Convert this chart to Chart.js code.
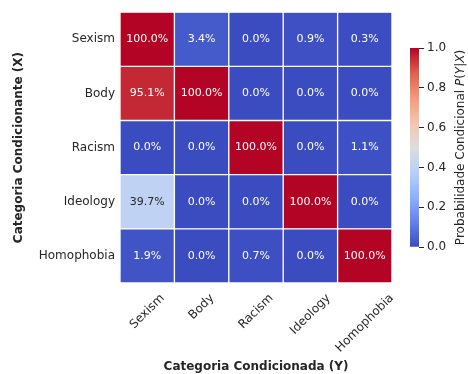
<!DOCTYPE html>
<html>
<head>
<meta charset="utf-8">
<script src="https://cdn.jsdelivr.net/npm/chart.js@4.4.1/dist/chart.umd.min.js"></script>
<style>
  body { margin: 0; background: #fff; }
  #wrap { position: relative; width: 468px; height: 374px; }
  #heat, #cbar { position: absolute; top: 0; }
  #heat { left: 0; }
  #cbar { left: 400px; }
</style>
</head>
<body>
<div id="wrap">
  <canvas id="heat" width="468" height="374"></canvas>
  <canvas id="cbar" width="68" height="374"></canvas>
</div>
<script>
// categories (same list for X rows and Y columns)
const categories = ['Sexism', 'Body', 'Racism', 'Ideology', 'Homophobia'];

// P(Y|X) in %, one row per conditioning category X
const sexismRow     = [100.0, 3.4, 0.0, 0.9, 0.3];
const bodyRow       = [95.1, 100.0, 0.0, 0.0, 0.0];
const racismRow     = [0.0, 0.0, 100.0, 0.0, 1.1];
const ideologyRow   = [39.7, 0.0, 0.0, 100.0, 0.0];
const homophobiaRow = [1.9, 0.0, 0.7, 0.0, 100.0];
const rows = [sexismRow, bodyRow, racismRow, ideologyRow, homophobiaRow];

const colorbarTicks = [0.0, 0.2, 0.4, 0.6, 0.8, 1.0];

const FONT = 'DejaVu Sans';
const INK = '#262626';

// matplotlib "coolwarm" control points
const coolwarmStops = [
    [0.0, 59, 76, 192], [0.125, 98, 130, 234], [0.25, 141, 176, 254],
    [0.375, 184, 208, 249], [0.5, 221, 221, 221], [0.625, 245, 196, 173],
    [0.75, 244, 154, 123], [0.875, 222, 96, 77], [1.0, 180, 4, 38]
];

function coolwarmRGB(t) {
    t = Math.max(0, Math.min(1, t));
    for (let i = 1; i < coolwarmStops.length; i++) {
        const a = coolwarmStops[i - 1], b = coolwarmStops[i];
        if (t <= b[0]) {
            const f = (t - a[0]) / (b[0] - a[0]);
            return [1, 2, 3].map(k => Math.round(a[k] + (b[k] - a[k]) * f));
        }
    }
    return coolwarmStops[coolwarmStops.length - 1].slice(1);
}
const coolwarm = t => 'rgb(' + coolwarmRGB(t).join(',') + ')';

function luminance(rgb) {
    const c = rgb.map(v => {
        v /= 255;
        return v <= 0.03928 ? v / 12.92 : Math.pow((v + 0.055) / 1.055, 2.4);
    });
    return 0.2126 * c[0] + 0.7152 * c[1] + 0.0722 * c[2];
}

// stacked bars, bottom dataset = last row
const datasets = [];
for (let i = rows.length - 1; i >= 0; i--) {
    datasets.push({
        label: categories[i],
        data: categories.map(() => 1),
        values: rows[i],
        backgroundColor: rows[i].map(v => coolwarm(v / 100))
    });
}

const cellLabels = {
    id: 'cellLabels',
    afterDatasetsDraw(chart) {
        const ctx = chart.ctx;
        ctx.save();
        ctx.font = '11px "' + FONT + '"';
        ctx.textAlign = 'center';
        ctx.textBaseline = 'middle';
        chart.data.datasets.forEach((ds, di) => {
            chart.getDatasetMeta(di).data.forEach((bar, j) => {
                const v = ds.values[j];
                const p = bar.getCenterPoint();
                ctx.fillStyle = luminance(coolwarmRGB(v / 100)) > 0.408 ? INK : '#fff';
                ctx.fillText(v.toFixed(1) + '%', p.x, p.y);
            });
        });
        ctx.restore();
    }
};

// x tick labels rotated 45deg, bounding box centred on the tick (matplotlib style)
const rotatedXLabels = {
    id: 'rotatedXLabels',
    afterDraw(chart) {
        const ctx = chart.ctx;
        const sx = chart.scales.x;
        const c = Math.SQRT1_2;
        ctx.save();
        ctx.font = '12px "' + FONT + '"';
        ctx.fillStyle = INK;
        ctx.textAlign = 'center';
        ctx.textBaseline = 'middle';
        categories.forEach((lab, i) => {
            const w = ctx.measureText(lab).width;
            const h = 12;
            const boxH = (w + h) * c;
            const x = sx.getPixelForValue(i);
            const y = sx.top + 9 + boxH / 2;
            ctx.save();
            ctx.translate(x, y);
            ctx.rotate(-Math.PI / 4);
            ctx.fillText(lab, 0, 0);
            ctx.restore();
        });
        ctx.restore();
    }
};

new Chart(document.getElementById('heat'), {
    type: 'bar',
    data: { labels: categories, datasets: datasets },
    options: {
        responsive: false,
        animation: false,
        layout: { padding: { top: 11, right: 76, left: 0, bottom: 0 } },
        plugins: { legend: { display: false }, tooltip: { enabled: false } },
        datasets: {
            bar: {
                barPercentage: 1, categoryPercentage: 1,
                borderWidth: 1, borderColor: '#fff', borderSkipped: false
            }
        },
        scales: {
            x: {
                stacked: true,
                grid: { display: false, drawTicks: false },
                border: { display: false },
                ticks: { display: false },
                title: {
                    display: true, text: 'Categoria Condicionada (Y)', color: INK,
                    font: { family: FONT, size: 12, weight: 'bold' },
                    padding: { top: 4, bottom: 0 }
                },
                afterFit(s) { s.height = 91; }
            },
            y: {
                stacked: true, min: 0, max: 5,
                grid: { display: false, drawTicks: false, tickLength: 0 },
                border: { display: false },
                afterBuildTicks(s) {
                    s.ticks = categories.map((_, i) => ({ value: i + 0.5 }));
                },
                ticks: {
                    callback: (v, i) => categories[categories.length - 1 - i],
                    padding: 5, color: INK, font: { family: FONT, size: 12 }
                },
                title: {
                    display: true, text: 'Categoria Condicionante (X)', color: INK,
                    font: { family: FONT, size: 12, weight: 'bold' },
                    padding: { top: 12, bottom: 0 }
                },
                afterFit(s) { s.width = 120; }
            }
        }
    },
    plugins: [cellLabels, rotatedXLabels]
});

// colorbar label with italic math parts
const cbarTitle = {
    id: 'cbarTitle',
    afterDraw(chart) {
        const ctx = chart.ctx;
        const a = chart.chartArea;
        const parts = [
            ['Probabilidade Condicional ', ''], ['P', 'italic '], ['(', ''],
            ['Y', 'italic '], ['|', ''], ['X', 'italic '], [')', '']
        ];
        ctx.save();
        ctx.translate(61, (a.top + a.bottom) / 2);
        ctx.rotate(-Math.PI / 2);
        ctx.textBaseline = 'middle';
        ctx.fillStyle = INK;
        let total = 0;
        parts.forEach(p => {
            ctx.font = p[1] + '12px "' + FONT + '"';
            total += ctx.measureText(p[0]).width;
        });
        let x = -total / 2;
        parts.forEach(p => {
            ctx.font = p[1] + '12px "' + FONT + '"';
            ctx.fillText(p[0], x, 0);
            x += ctx.measureText(p[0]).width;
        });
        ctx.restore();
    }
};

new Chart(document.getElementById('cbar'), {
    type: 'bar',
    data: {
        labels: [''],
        datasets: [{
            data: [[colorbarTicks[0], colorbarTicks[colorbarTicks.length - 1]]],
            borderWidth: 0,
            barPercentage: 1, categoryPercentage: 1,
            backgroundColor(context) {
                const area = context.chart.chartArea;
                if (!area) return null;
                const g = context.chart.ctx.createLinearGradient(0, area.bottom, 0, area.top);
                coolwarmStops.forEach(s => g.addColorStop(s[0], 'rgb(' + s.slice(1).join(',') + ')'));
                return g;
            }
        }]
    },
    options: {
        responsive: false,
        animation: false,
        layout: { padding: { top: 48, bottom: 127, left: 10, right: 19 } },
        plugins: { legend: { display: false }, tooltip: { enabled: false } },
        scales: {
            x: { display: false },
            y: {
                position: 'right', min: 0, max: 1,
                afterBuildTicks(s) {
                    s.ticks = colorbarTicks.map(v => ({ value: v }));
                },
                ticks: {
                    callback: v => v.toFixed(1), padding: 3,
                    color: INK, font: { family: FONT, size: 12 }
                },
                grid: { drawOnChartArea: false, tickLength: 5, color: INK, tickWidth: 1 },
                border: { display: false },
                afterFit(s) { s.width = 30; }
            }
        }
    },
    plugins: [cbarTitle]
});
</script>
</body>
</html>
